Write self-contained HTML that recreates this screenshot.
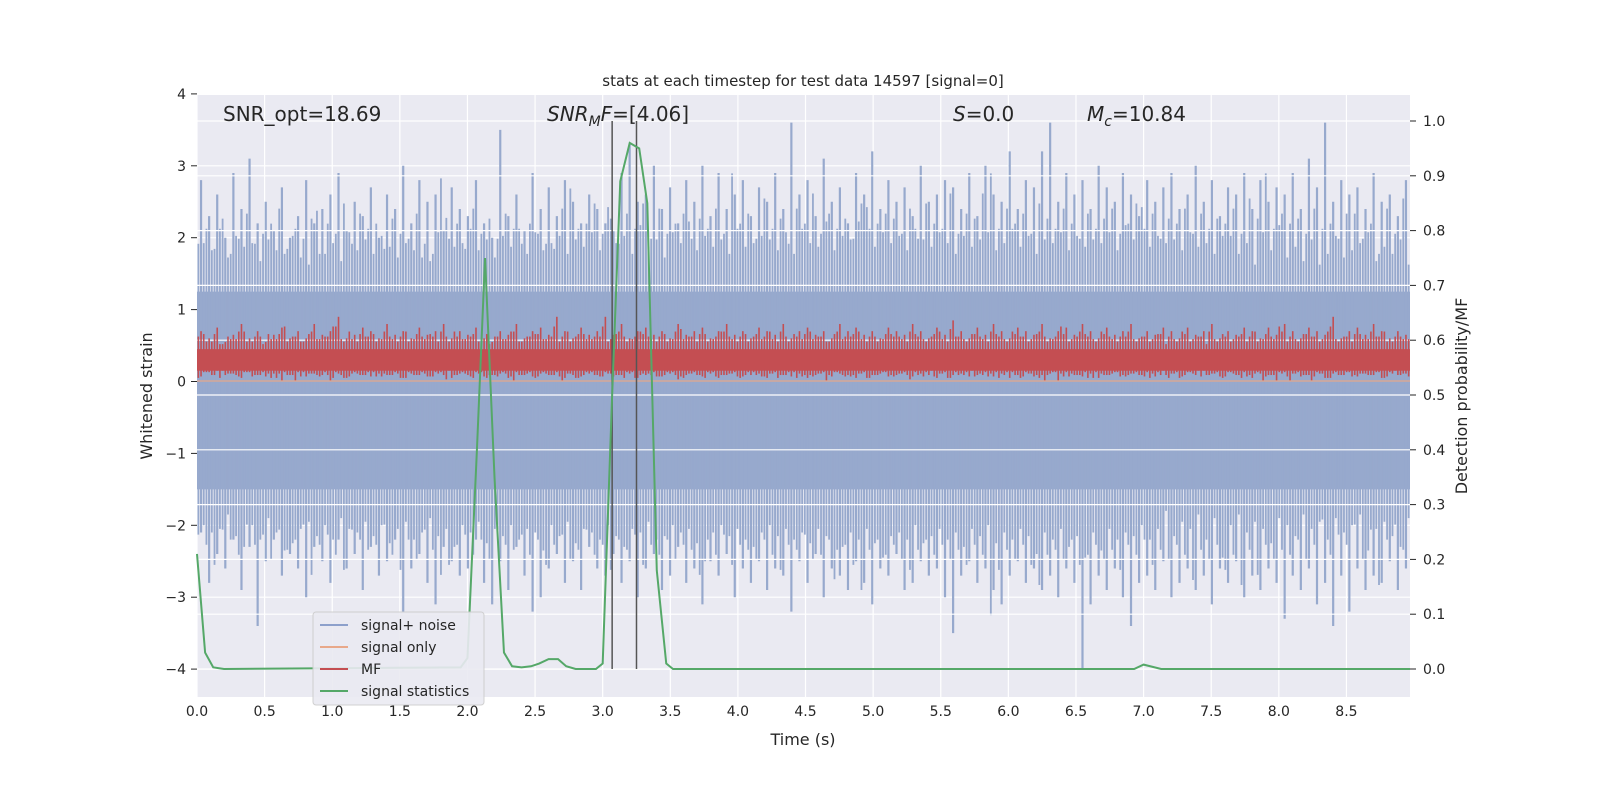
<!DOCTYPE html>
<html><head><meta charset="utf-8"><style>
body{margin:0;background:#fff;font-family:"Liberation Sans","DejaVu Sans",sans-serif;}
svg text{font-family:"DejaVu Sans","Liberation Sans",sans-serif;fill:#262626;}
</style></head><body>
<svg id="chart" width="1600" height="800" xmlns="http://www.w3.org/2000/svg">
<rect x="197" y="95" width="1213" height="602" fill="#eaeaf2"/>
<g id="gridL"></g>
<g id="noise"></g>
<g id="gridR"></g>
<g id="mf"></g>
<line x1="197" y1="381" x2="1410" y2="381" stroke="#e8a88a" stroke-width="1.5" opacity="0.8"/>
<g id="vlines"></g>
<g id="stats"></g>
<g id="axes"></g>
<text x="803" y="86" font-size="15" text-anchor="middle">stats at each timestep for test data 14597 [signal=0]</text>
<text x="223" y="121" font-size="20">SNR_opt=18.69</text>
<text x="547" y="121" font-size="20"><tspan font-style="italic">SNR</tspan><tspan font-style="italic" font-size="14" dy="5">M</tspan><tspan font-style="italic" dy="-5">F</tspan>=[4.06]</text>
<text x="953" y="121" font-size="20"><tspan font-style="italic">S</tspan>=0.0</text>
<text x="1087" y="121" font-size="20"><tspan font-style="italic">M</tspan><tspan font-style="italic" font-size="14" dy="5">c</tspan><tspan dy="-5">=10.84</tspan></text>
<text x="803" y="745" font-size="16" text-anchor="middle">Time (s)</text>
<text transform="translate(152,396) rotate(-90)" font-size="16" text-anchor="middle">Whitened strain</text>
<text transform="translate(1467,396) rotate(-90)" font-size="16" text-anchor="middle">Detection probability/MF</text>
<g>
<rect x="313" y="612" width="171" height="93" rx="3" fill="#eaeaf2" stroke="#cccccc" opacity="0.9"/>
<g><line x1="320" y1="625" x2="348" y2="625" stroke="#8da0cb" stroke-width="2"/><text x="361" y="630" font-size="14">signal+ noise</text></g>
<g><line x1="320" y1="647" x2="348" y2="647" stroke="#e8a88a" stroke-width="2"/><text x="361" y="652" font-size="14">signal only</text></g>
<g><line x1="320" y1="669" x2="348" y2="669" stroke="#c44e52" stroke-width="2"/><text x="361" y="674" font-size="14">MF</text></g>
<g><line x1="320" y1="691" x2="348" y2="691" stroke="#55a868" stroke-width="2"/><text x="361" y="696" font-size="14">signal statistics</text></g>
</g>
</svg>
<script>
const xTicks=[0,0.5,1,1.5,2,2.5,3,3.5,4,4.5,5,5.5,6,6.5,7,7.5,8,8.5];
const yTicks=[-4,-3,-2,-1,0,1,2,3,4];
const y2Ticks=[0,0.1,0.2,0.3,0.4,0.5,0.6,0.7,0.8,0.9,1.0];
const noiseUpper=[2.8,2.3,2.6,2.0,2.9,2.4,3.1,2.2,2.5,2.1,2.7,2.0,2.3,2.8,2.2,2.4,2.6,2.9,2.1,2.5,2.3,2.7,2.0,2.6,2.4,3.0,2.2,2.8,2.5,2.6,2.1,2.7,2.4,2.3,2.8,2.2,2.0,3.5,2.3,2.6,2.1,2.9,2.4,2.7,2.3,2.8,2.5,2.2,2.6,2.4,2.2,2.1,2.9,3.3,2.5,2.6,3.0,2.4,2.7,2.2,2.8,2.5,3.0,2.3,2.9,2.4,2.6,2.8,2.3,2.7,2.5,2.9,2.4,3.6,2.6,2.8,2.3,3.1,2.5,2.7,2.2,2.9,2.6,3.2,2.4,2.8,2.5,2.7,2.3,3.0,2.5,2.6,2.8,2.7,2.4,2.9,2.3,3.0,2.6,2.5,3.2,2.4,2.8,2.7,3.2,3.6,2.5,2.9,2.6,2.8,2.4,3.0,2.7,2.5,2.9,2.6,2.3,2.8,2.5,2.7,2.9,2.4,2.6,3.0,2.5,2.8,2.3,2.7,2.6,2.9,2.4,2.8,2.5,2.7,2.6,2.9,2.4,3.1,2.7,3.6,2.5,2.8,2.6,2.7,2.4,2.9,2.5,2.6,2.3,2.8];
const noiseLower=[-2.1,-2.8,-2.4,-2.6,-2.2,-2.9,-2.3,-3.4,-2.5,-2.2,-2.7,-2.4,-2.6,-3.0,-2.3,-2.5,-2.8,-2.2,-2.6,-2.4,-2.9,-2.3,-2.7,-2.5,-2.2,-3.2,-2.6,-2.4,-2.8,-3.1,-2.3,-2.5,-2.7,-2.6,-2.2,-2.8,-3.1,-2.5,-2.9,-2.3,-2.7,-3.2,-3.0,-2.6,-2.4,-2.8,-2.5,-2.9,-2.3,-2.6,-2.7,-2.4,-2.8,-2.5,-3.0,-2.6,-2.4,-2.9,-2.7,-2.3,-2.8,-2.6,-3.1,-2.5,-2.7,-2.4,-3.0,-2.6,-2.8,-2.5,-2.9,-2.6,-2.7,-3.2,-2.5,-2.8,-2.4,-3.0,-2.6,-2.7,-2.9,-2.5,-2.8,-3.1,-2.6,-2.7,-2.4,-2.9,-2.8,-2.5,-2.7,-2.6,-3.0,-3.5,-2.7,-2.5,-2.8,-2.6,-2.9,-3.1,-2.7,-2.5,-2.8,-2.6,-2.9,-2.7,-3.0,-2.6,-2.8,-4.0,-3.1,-2.7,-2.9,-2.6,-3.0,-3.4,-2.8,-2.7,-2.9,-2.5,-3.0,-2.8,-2.6,-2.9,-2.7,-3.1,-2.6,-2.8,-2.5,-3.0,-2.7,-2.9,-2.6,-2.8,-3.3,-2.7,-2.9,-2.6,-3.1,-2.8,-3.4,-2.7,-3.2,-2.6,-2.9,-2.7,-2.8,-2.5,-2.9,-2.6];
const mfUpper=[0.7,0.6,0.75,0.55,0.65,0.8,0.6,0.7,0.55,0.65,0.75,0.6,0.7,0.6,0.8,0.65,0.7,0.9,0.6,0.65,0.75,0.7,0.6,0.8,0.65,0.7,0.6,0.75,0.65,0.7,0.8,0.6,0.7,0.65,0.75,0.6,0.55,0.7,0.65,0.8,0.6,0.7,0.75,0.65,0.9,0.7,0.6,0.75,0.65,0.7,0.9,0.65,0.8,0.6,0.7,0.75,0.65,0.7,0.6,0.8,0.65,0.7,0.75,0.6,0.7,0.8,0.65,0.7,0.6,0.75,0.7,0.65,0.8,0.6,0.7,0.75,0.65,0.7,0.6,0.8,0.7,0.75,0.65,0.7,0.6,0.75,0.7,0.65,0.8,0.7,0.6,0.75,0.65,0.85,0.7,0.6,0.75,0.65,0.8,0.7,0.6,0.75,0.7,0.65,0.8,0.6,0.7,0.75,0.65,0.8,0.7,0.6,0.75,0.65,0.7,0.8,0.6,0.7,0.65,0.75,0.7,0.6,0.75,0.65,0.7,0.8,0.6,0.7,0.65,0.75,0.7,0.6,0.75,0.65,0.8,0.7,0.6,0.75,0.7,0.65,0.9,0.6,0.7,0.75,0.65,0.8,0.7,0.6,0.7,0.65];
const statT=[0,0.06,0.12,0.2,1.95,2.0,2.07,2.13,2.2,2.27,2.33,2.4,2.47,2.53,2.6,2.67,2.73,2.8,2.95,3.0,3.07,3.13,3.2,3.27,3.33,3.4,3.47,3.52,6.93,7.0,7.13,8.97];
const statV=[0.21,0.03,0.003,0,0.003,0.02,0.4,0.75,0.35,0.03,0.005,0.003,0.005,0.01,0.018,0.018,0.005,0,0,0.01,0.5,0.89,0.96,0.95,0.85,0.18,0.01,0,0,0.008,0,0];
const vlineT=[3.07,3.25];
const X0=197,X1=1410,XMAX=8.97;
const sx=t=>X0+t*(X1-X0)/XMAX;
const sy=v=>381.5-v*71.9;
const sy2=v=>669-v*548;
const NS='http://www.w3.org/2000/svg';
function mk(parent,tag,attrs){const e=document.createElementNS(NS,tag);for(const k in attrs)e.setAttribute(k,attrs[k]);document.getElementById(parent).appendChild(e);return e;}
xTicks.forEach(t=>{
 const g=mk('gridL','line',{x1:sx(t),x2:sx(t),y1:95,y2:697,stroke:'#fff','stroke-width':1.2});
 
 
 const tk=mk('axes','text',{x:sx(t),y:716,'font-size':14,'text-anchor':'middle'});tk.textContent=t.toFixed(1);
 
 
});
yTicks.forEach(v=>{
 const g=mk('gridL','line',{x1:X0,x2:X1,y1:sy(v),y2:sy(v),stroke:'#fff','stroke-width':1.2});
 
 
 const tk=mk('axes','text',{x:186,y:sy(v)+5,'font-size':14,'text-anchor':'end'});tk.textContent=v<0?'\u2212'+(-v):String(v);
 
 
 mk('axes','line',{x1:191,x2:197,y1:sy(v),y2:sy(v),stroke:'#262626'});
});
y2Ticks.forEach(v=>{
 const g=mk('gridR','line',{x1:X0,x2:X1,y1:sy2(v),y2:sy2(v),stroke:'#fff','stroke-width':1.2});
 
 
 const tk=mk('axes','text',{x:1423,y:sy2(v)+5,'font-size':14});tk.textContent=v.toFixed(1);
 
 
 mk('axes','line',{x1:1410,x2:1416,y1:sy2(v),y2:sy2(v),stroke:'#262626'});
});
const nb=noiseUpper.length, bw=(X1-X0)/nb;
const core=mk('noise','rect',{x:X0,y:sy(1.25),width:X1-X0,height:sy(-1.5)-sy(1.25),fill:'#97a9cd'});


noiseUpper.forEach((u,i)=>{
 const lo=noiseLower[i];
 const x=X0+(i+0.5)*bw;
 const l=mk('noise','line',{x1:x,x2:x,y1:sy(u),y2:sy(lo),stroke:'#97a9cd','stroke-width':2.2});
 
 
 const n=noiseUpper[(i+7)%nb], m=noiseLower[(i+11)%nb];
 const l2=mk('noise','line',{x1:x-bw/3,x2:x-bw/3,y1:sy(1.25+(n-1.25)*0.7),y2:sy(-1.5+(m+1.5)*0.7),stroke:'#97a9cd','stroke-width':1.8});
 
 
 const l3=mk('noise','line',{x1:x+bw/3,x2:x+bw/3,y1:sy(1.25+(noiseUpper[(i+23)%nb]-1.25)*0.5),y2:sy(-1.5+(noiseLower[(i+31)%nb]+1.5)*0.5),stroke:'#97a9cd','stroke-width':1.8});
 
 
});
const mb=mfUpper.length, mw=(X1-X0)/mb;
const mc=mk('mf','rect',{x:X0,y:sy(0.45),width:X1-X0,height:sy(0.15)-sy(0.45),fill:'#c44e52'});


mfUpper.forEach((u,i)=>{
 for(let k=0;k<3;k++){
  const x=X0+(i+(k+0.5)/3)*mw;
  const uu=k==1?u:0.45+(mfUpper[(i+k*17)%mb]-0.45)*0.7;
  const bot=0.15-(mfUpper[(i+k*29+5)%mb]-0.55)*0.4;
  const l=mk('mf','line',{x1:x,x2:x,y1:sy(uu),y2:sy(bot),stroke:'#c44e52','stroke-width':1.6});
  
  
 }
});
vlineT.forEach(t=>{
 const l=mk('vlines','line',{x1:sx(t),x2:sx(t),y1:sy2(1.0),y2:sy2(0),stroke:'#555','stroke-width':1.5});
 
 
});
const p=mk('stats','polyline',{points:statT.map((t,i)=>sx(t)+','+sy2(statV[i])).join(' '),fill:'none',stroke:'#55a868','stroke-width':2});


</script>
</body></html>
